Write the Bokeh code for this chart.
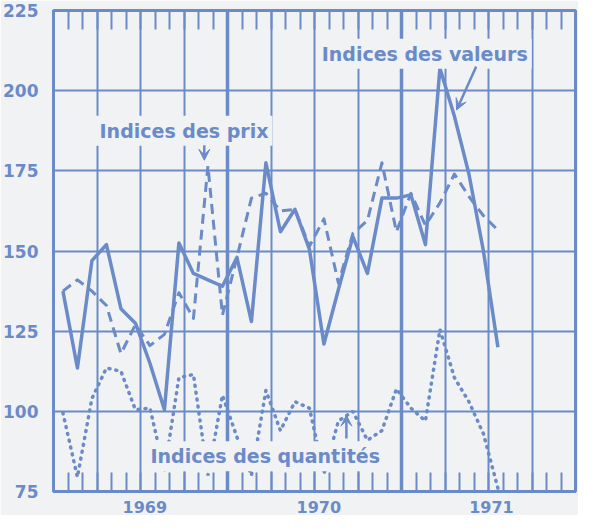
import numpy as np
from bokeh.plotting import figure
from bokeh.models import FixedTicker, LinearAxis, Label, Arrow, VeeHead, Range1d, Span
from bokeh.embed import file_html
from bokeh.resources import INLINE

BLUE = "#6a8bc8"
BG = "#f1f2f3"

# monthly observations (month index from the start of 1969)
month_index = list(range(31))
valeurs = [137.5, 113.5, 147, 152, 132, 127.5, 115, 100.5, 152.5, 143, 141,
           139, 148, 128, 177.5, 156, 163, 150.5, 121, 138, 154.5, 143,
           166.5, 166.5, 167.5, 152, 207, 192, 174, 150, 120]
prix = [137.5, 141, 137.5, 133, 118, 127, 120.5, 124, 137, 129, 176.5,
        130, 148, 166.5, 168, 162.5, 163, 151.5, 160, 140, 155.5, 159.5,
        177.5, 156, 168, 158, 165, 174, 167, 161, 156.5]
quantites = [99.5, 79.5, 104, 113.5, 112.5, 100.5, 101, 81.5, 110.5, 111.5,
             80, 105, 92, 80, 106.5, 94, 103, 101, 80.5, 97, 100, 91, 94,
             107, 101, 97, 125.5, 110.5, 103, 93, 76]
y_ticks = [75, 100, 125, 150, 175, 200, 225]
year_labels = ["1969", "1970", "1971"]

x = np.array(month_index) + 0.65
year_pos = [6.3, 18.3, 30.2]

p = figure(width=578, height=515, x_range=Range1d(0, 36), y_range=Range1d(75, 225),
           output_backend="svg", toolbar_location=None,
           min_border_left=49, min_border_right=3, min_border_top=10, min_border_bottom=18,
           background_fill_color=BG, border_fill_color=BG,
           outline_line_color=BLUE, outline_line_width=3)

# grids
p.xgrid.ticker = FixedTicker(ticks=list(range(0, 37, 3)))
p.ygrid.ticker = FixedTicker(ticks=y_ticks)
for g in (p.xgrid, p.ygrid):
    g.grid_line_color = BLUE
    g.grid_line_width = 2
    g.grid_line_alpha = 1

for loc in (12, 24):
    p.add_layout(Span(location=loc, dimension="height", line_color=BLUE,
                      line_width=3.5, level="underlay"))

# left axis
ya = p.yaxis[0]
ya.ticker = FixedTicker(ticks=y_ticks)
ya.major_tick_line_color = None
ya.minor_tick_line_color = None
ya.axis_line_color = None
ya.major_label_standoff = 9
ya.major_label_text_font = "DejaVu Sans"
ya.major_label_text_font_style = "bold"
ya.major_label_text_font_size = "17px"
ya.major_label_text_color = BLUE

# bottom axis
xa = p.xaxis[0]
xa.ticker = FixedTicker(ticks=year_pos, minor_ticks=list(range(37)))
xa.major_label_overrides = {pos: lab for pos, lab in zip(year_pos, year_labels)}
xa.major_tick_line_color = None
xa.axis_line_color = None
xa.minor_tick_in = 19
xa.minor_tick_out = 0
xa.minor_tick_line_color = BLUE
xa.minor_tick_line_width = 2
xa.major_label_standoff = 3
xa.major_label_text_font = "DejaVu Sans"
xa.major_label_text_font_style = "bold"
xa.major_label_text_font_size = "16px"
xa.major_label_text_color = BLUE

# top axis with monthly ticks
top = LinearAxis(ticker=FixedTicker(ticks=[], minor_ticks=list(range(37))),
                 minor_tick_in=19, minor_tick_out=0, minor_tick_line_color=BLUE,
                 minor_tick_line_width=2, major_tick_line_color=None,
                 axis_line_color=None, major_label_text_font_size="0px",
                 major_label_standoff=0)
p.add_layout(top, "above")

# series
p.line(x, valeurs, line_color=BLUE, line_width=3.5, line_join="round")
p.line(x, prix, line_color=BLUE, line_width=3, line_dash="10 6", line_join="round")
p.line(x, quantites, line_color=BLUE, line_width=3.5, line_dash="1 6", line_cap="round")

# annotations
def lab(xx, yy, t):
    p.add_layout(Label(x=xx, y=yy, text=t, text_align="center", text_baseline="middle",
                       text_font="DejaVu Sans", text_font_style="bold",
                       text_font_size="19px", text_color=BLUE,
                       background_fill_color=BG, padding=4))

lab(9.0, 187.5, "Indices des prix")
lab(25.6, 211.5, "Indices des valeurs")
lab(14.6, 86.0, "Indices des quantités")

def arr(x0, y0, x1, y1):
    p.add_layout(Arrow(end=VeeHead(size=11, fill_color=BLUE, line_color=BLUE),
                       x_start=x0, y_start=y0, x_end=x1, y_end=y1,
                       line_color=BLUE, line_width=2.5))

arr(10.4, 183.0, 10.4, 178.3)
arr(29.15, 207.5, 27.8, 194.0)
arr(20.2, 91.5, 20.2, 98.8)

open("out.html", "w").write(file_html(p, INLINE))
